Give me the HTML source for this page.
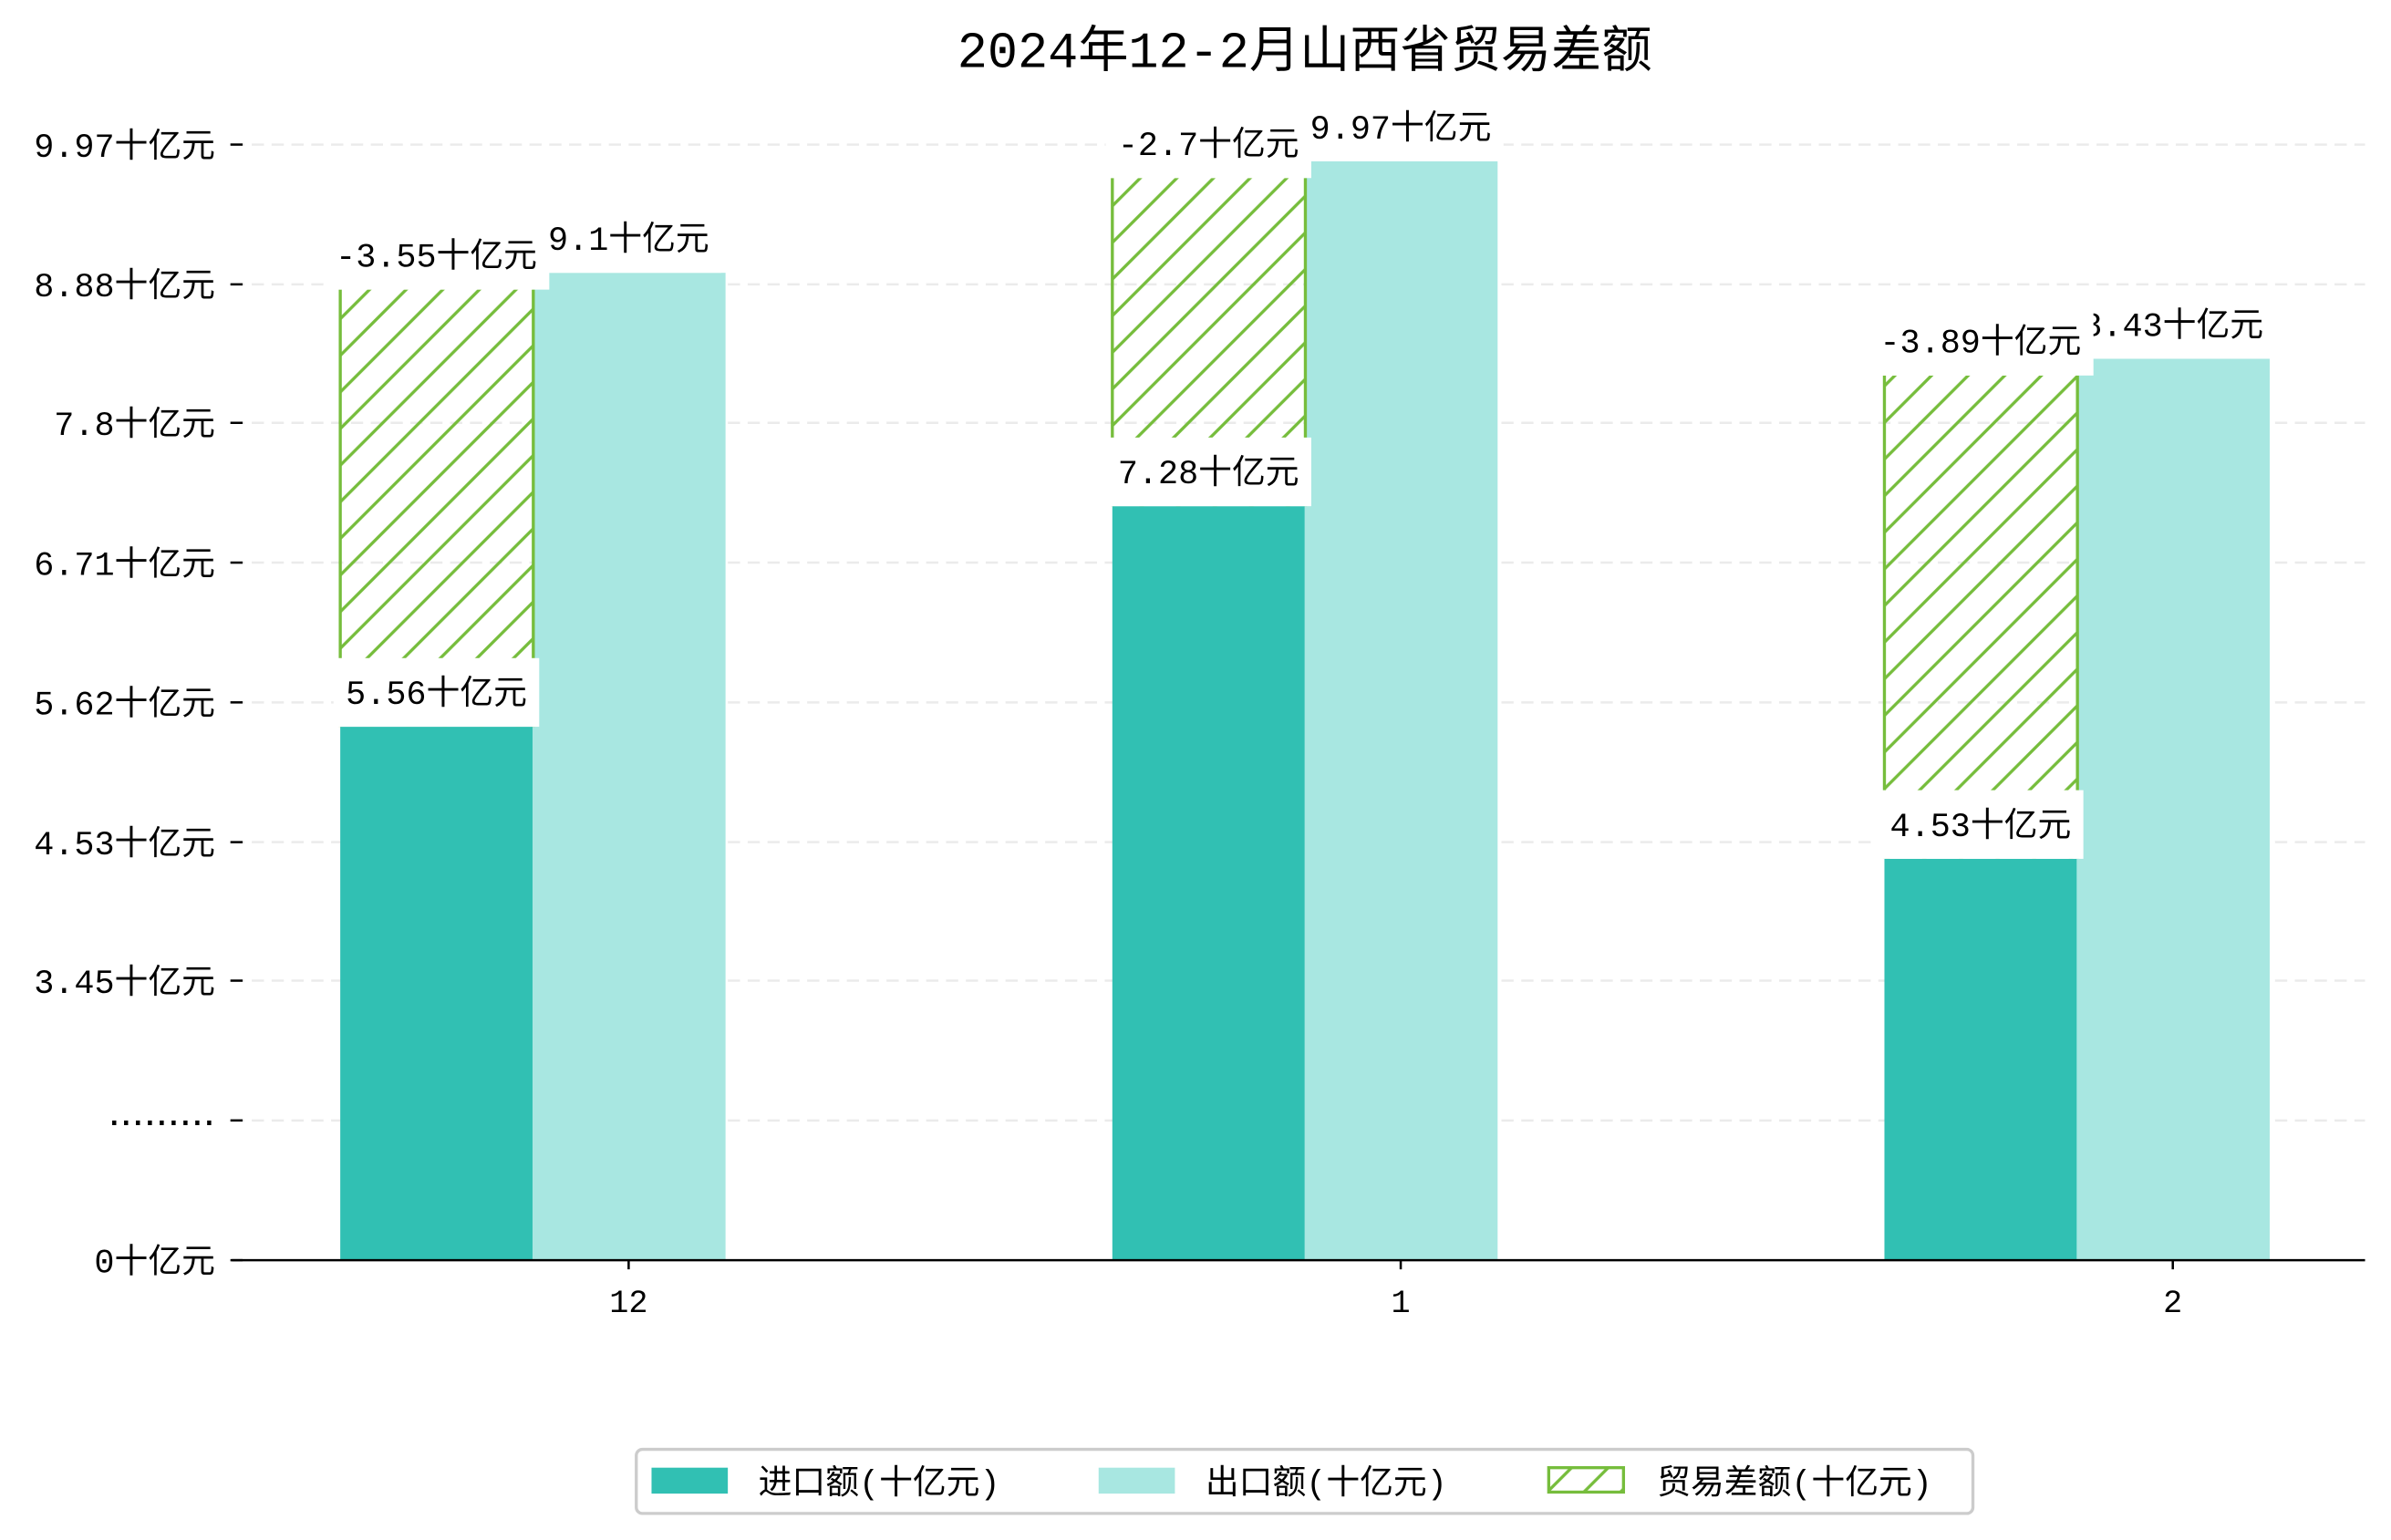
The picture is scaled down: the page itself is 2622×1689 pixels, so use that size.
<!DOCTYPE html>
<html><head><meta charset="utf-8"><style>
html,body{margin:0;padding:0;background:#fff;}
svg{display:block;font-family:"Liberation Mono","Noto Sans CJK SC","WenQuanYi Zen Hei",monospace;}
</style></head><body>
<svg id="chart" width="2622" height="1689" viewBox="0 0 1567 1009.4" preserveAspectRatio="none" xmlns="http://www.w3.org/2000/svg">
<defs>
<pattern id="hatch" patternUnits="userSpaceOnUse" width="24" height="24">
<path d="M-6,6 L6,-6 M0,24 L24,0 M18,30 L30,18" stroke="#76bd3c" stroke-width="2"/>
</pattern>
</defs>
<text x="855" y="44" text-anchor="middle" font-size="33" fill="#000">2024年12-2月山西省贸易差额</text>
<g id="grid"></g>
<g id="bars"></g>
<g id="labels"></g>
<g id="axes"></g>
<g>
<rect x="417" y="950" width="876" height="42" rx="4" fill="#fff" stroke="#ccc" stroke-width="2"/>
<rect x="427" y="962" width="50" height="17" fill="#31c0b3"/>
<text x="497" y="979" font-size="22">进口额(十亿元)</text>
<rect x="720" y="962" width="50" height="17" fill="#a8e7e1"/>
<text x="790" y="979" font-size="22">出口额(十亿元)</text>
<rect x="1015" y="962" width="49" height="16" fill="url(#hatch)" stroke="#76bd3c" stroke-width="2"/>
<text x="1086" y="979" font-size="22">贸易差额(十亿元)</text>
</g>
</svg>
<script>
const categories = ['12', '1', '2'];
const imports = [5.56, 7.28, 4.53];
const exports = [9.1, 9.97, 8.43];
const balance = [-3.55, -2.7, -3.89];
const yTickLabels = ['0十亿元', '.........', '3.45十亿元', '4.53十亿元', '5.62十亿元', '6.71十亿元', '7.8十亿元', '8.88十亿元', '9.97十亿元'];
const yTickValues = [1.27, 2.36, 3.45, 4.53, 5.62, 6.71, 7.8, 8.88, 9.97];

const NS = 'http://www.w3.org/2000/svg';
const X0 = 152, X1 = 1550, BASE = 826;
const PX_PER_UNIT = 84.05;
function yTick(v) { return BASE - (v - 1.27) * PX_PER_UNIT; }
function yBar(v) { return BASE - (v - 1.40) * PX_PER_UNIT; }
function xCenter(i) { return 412 + i * 506; }
const BW = 126.5;

function mk(tag, attrs, parent) {
  const e = document.createElementNS(NS, tag);
  for (const k in attrs) e.setAttribute(k, attrs[k]);
  parent.appendChild(e);
  return e;
}
const grid = document.getElementById('grid');
const bars = document.getElementById('bars');
const labels = document.getElementById('labels');
const axes = document.getElementById('axes');

yTickValues.forEach((v, i) => {
  const y = yTick(v);
  if (i > 0) {
    const g = mk('line', {x1: X0, x2: X1, y1: y, y2: y, stroke: '#ebebeb', 'stroke-width': 1.5, 'stroke-dasharray': '8,5'}, grid);
    
    
  }
  const t = mk('line', {x1: X0 - 1, x2: X0 + 7, y1: y, y2: y, stroke: '#000', 'stroke-width': 1.5}, axes);
  
  
  const isDots = yTickLabels[i].indexOf('.....') === 0;
  const attrs = {x: 141, y: y + 8, 'text-anchor': 'end', 'font-size': isDots ? 28 : 22};
  if (isDots) { attrs['font-family'] = 'Liberation Sans, sans-serif'; attrs.y = y + 3; }
  const lab = mk('text', attrs, axes);
  lab.textContent = yTickLabels[i];
  
  
});

const axisLine = mk('line', {x1: X0, x2: X1, y1: BASE, y2: BASE, stroke: '#000', 'stroke-width': 1.5}, axes);



function label(text, cx, bottom, name) {
  const r = mk('rect', {x: cx, y: bottom - 45, width: 10, height: 45, fill: '#fff'}, labels);
  
  
  const t = mk('text', {x: cx, y: bottom - 15, 'text-anchor': 'middle', 'font-size': 22}, labels);
  t.textContent = text;
  
  
  let w = text.length * 17;
  try { w = t.getBBox().width; } catch (e) {}
  r.setAttribute('x', cx - w / 2 - 8);
  r.setAttribute('width', w + 16);
}

categories.forEach((c, i) => {
  const cx = xCenter(i);
  const yi = yBar(imports[i]);
  const ye = yBar(exports[i]);
  const yh = ye + 11;
  const bi = mk('rect', {x: cx - 189, y: yi, width: BW, height: BASE - yi, fill: '#31c0b3'}, bars);
  
  
  const be = mk('rect', {x: cx - 63, y: ye, width: BW, height: BASE - ye, fill: '#a8e7e1'}, bars);
  
  
  const bh = mk('rect', {x: cx - 189, y: yh, width: BW, height: yi - yh, fill: 'url(#hatch)'}, bars);
  
  
  const el = mk('line', {x1: cx - 189, x2: cx - 189, y1: yh, y2: yi, stroke: '#76bd3c', 'stroke-width': 2}, bars);
  
  
  const er = mk('line', {x1: cx - 62.5, x2: cx - 62.5, y1: yh, y2: yi, stroke: '#76bd3c', 'stroke-width': 2}, bars);
  
  

  const xt = mk('line', {x1: cx, x2: cx, y1: BASE, y2: BASE + 6, stroke: '#000', 'stroke-width': 1.5}, axes);
  
  
  const xl = mk('text', {x: cx, y: BASE + 34, 'text-anchor': 'middle', 'font-size': 21}, axes);
  xl.textContent = c;
  
  

  label(exports[i] + '十亿元', cx, ye, 'export-value-label');
  label(balance[i] + '十亿元', cx - 126, yh, 'balance-value-label');
  label(imports[i] + '十亿元', cx - 126, yi, 'import-value-label');
});
</script>
</body></html>
